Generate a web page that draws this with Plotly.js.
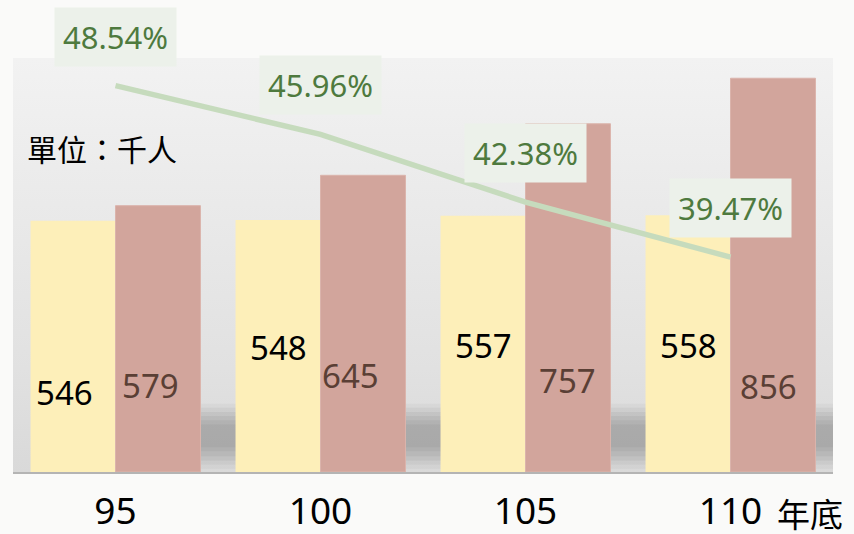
<!DOCTYPE html>
<html>
<head>
<meta charset="utf-8">
<script src="https://cdn.plot.ly/plotly-3.0.1.min.js"></script>
<style>
html,body{margin:0;padding:0;background:#fafaf9;}
#chart{width:854px;height:534px;}
</style>
</head>
<body>
<div id="chart"></div>
<script>
// ---- data ----
const categories = ['95', '100', '105', '110'];
const tickLabels = ['95', '100', '105', '110'];
const seriesA = [546, 548, 557, 558];          // yellow bars (千人)
const seriesB = [579, 645, 757, 856];          // rose bars (千人)
const ratio = [48.54, 45.96, 42.38, 39.47];    // line (%)
const unitLabel = '單位：千人';
const axisSuffix = '年底';

// ---- label placement (styling, not data) ----
const labelYA = [173, 270, 274, 275];
const labelYB = [188, 209, 200, 186];
const labelDxA = [-9, 0, 0, 0];
const labelDxB = [-8, -13, -1, -5];

const FONT = '"Noto Sans", "Noto Sans CJK TC", sans-serif';
const CJK = '"Noto Sans CJK TC", "Noto Sans", sans-serif';
const HALF = 42.5;

const traces = [
  {
    type: 'bar', x: categories, y: seriesA, name: 'A',
    marker: {color: '#fdefb9'}, hoverinfo: 'skip'
  },
  {
    type: 'bar', x: categories, y: seriesB, name: 'B',
    marker: {color: '#d2a59c', line: {color: '#dbb4ac', width: 1}}, hoverinfo: 'skip'
  },
  {
    type: 'scatter', mode: 'lines', x: categories, y: ratio, yaxis: 'y2',
    line: {color: '#c6dbbd', width: 5.5}, hoverinfo: 'skip'
  }
];

// category axis: annotation x is the category index
const annotations = [];
categories.forEach((c, i) => {
  annotations.push({
    x: i, y: labelYA[i], xref: 'x', yref: 'y', text: String(seriesA[i]),
    showarrow: false, xshift: -HALF + labelDxA[i],
    font: {family: FONT, size: 33, color: '#000000'}
  });
  annotations.push({
    x: i, y: labelYB[i], xref: 'x', yref: 'y', text: String(seriesB[i]),
    showarrow: false, xshift: HALF + labelDxB[i],
    font: {family: FONT, size: 33, color: '#5a3f35'}
  });
  annotations.push({
    x: i, y: ratio[i], xref: 'x', yref: 'y2', text: ratio[i].toFixed(2) + '%',
    showarrow: false, yshift: 49, width: 121, height: 58,
    bgcolor: '#ecf1ea', borderpad: 0,
    font: {family: FONT, size: 31, color: '#4e7a3e'}
  });
});
annotations.push({
  x: 0.0146, y: 0.783, xref: 'paper', yref: 'paper', xanchor: 'left', yanchor: 'middle',
  text: unitLabel, showarrow: false, font: {family: CJK, size: 30, color: '#000000'}
});
annotations.push({
  x: 0.93, y: -0.1, xref: 'paper', yref: 'paper', xanchor: 'left', yanchor: 'middle',
  height: 38, borderpad: 0,
  text: axisSuffix, showarrow: false, font: {family: CJK, size: 33, color: '#000000'}
});

// background gradient
const svg = "<svg xmlns='http://www.w3.org/2000/svg' width='100' height='100' preserveAspectRatio='none'>" +
  "<defs><linearGradient id='g' x1='0' y1='0' x2='0' y2='1'>" +
  "<stop offset='0' stop-color='#f2f2f2'/><stop offset='0.75' stop-color='#e1e1e1'/><stop offset='1' stop-color='#d9d9d9'/>" +
  "</linearGradient></defs><rect width='100' height='100' fill='url(#g)'/></svg>";
const bgImg = 'data:image/svg+xml;charset=utf-8,' + encodeURIComponent(svg);

// floor shadow (soft band built from layered translucent strips)
const shapes = [];
[[0.008, 0.165, 0.07], [0.018, 0.155, 0.09], [0.028, 0.145, 0.11],
 [0.038, 0.135, 0.12], [0.05, 0.125, 0.13], [0.06, 0.115, 0.12]].forEach(([y0, y1, op]) => {
  shapes.push({
    type: 'rect', layer: 'below', xref: 'paper', yref: 'paper',
    x0: 0.229, x1: 1, y0: y0, y1: y1,
    fillcolor: '#7a7a7a', opacity: op, line: {width: 0}
  });
});

const layout = {
  width: 854, height: 534,
  paper_bgcolor: '#fafaf9', plot_bgcolor: '#ececec',
  margin: {l: 13, r: 21, t: 58, b: 62, pad: 0},
  showlegend: false,
  barmode: 'group', bargap: 0.171, bargroupgap: 0,
  xaxis: {
    type: 'category', categoryorder: 'array', categoryarray: categories,
    tickvals: categories, ticktext: tickLabels, range: [-0.5, 3.5], autorange: false,
    showline: true, linecolor: '#b4b4b4', linewidth: 2, ticks: '', showgrid: false, zeroline: false,
    tickfont: {family: FONT, size: 37, color: '#000000'}, tickangle: 0, ticklabelstandoff: 6,
    fixedrange: true
  },
  yaxis: {range: [0, 900], autorange: false, visible: false, showgrid: false, zeroline: false, fixedrange: true},
  yaxis2: {range: [28.1, 50], autorange: false, overlaying: 'y', visible: false, showgrid: false, zeroline: false, fixedrange: true},
  images: [{
    source: bgImg, xref: 'paper', yref: 'paper', x: 0, y: 1, sizex: 1, sizey: 1,
    xanchor: 'left', yanchor: 'top', sizing: 'stretch', layer: 'below'
  }],
  shapes: shapes,
  annotations: annotations
};

Plotly.newPlot('chart', traces, layout, {staticPlot: true, displayModeBar: false});
</script>
</body>
</html>
